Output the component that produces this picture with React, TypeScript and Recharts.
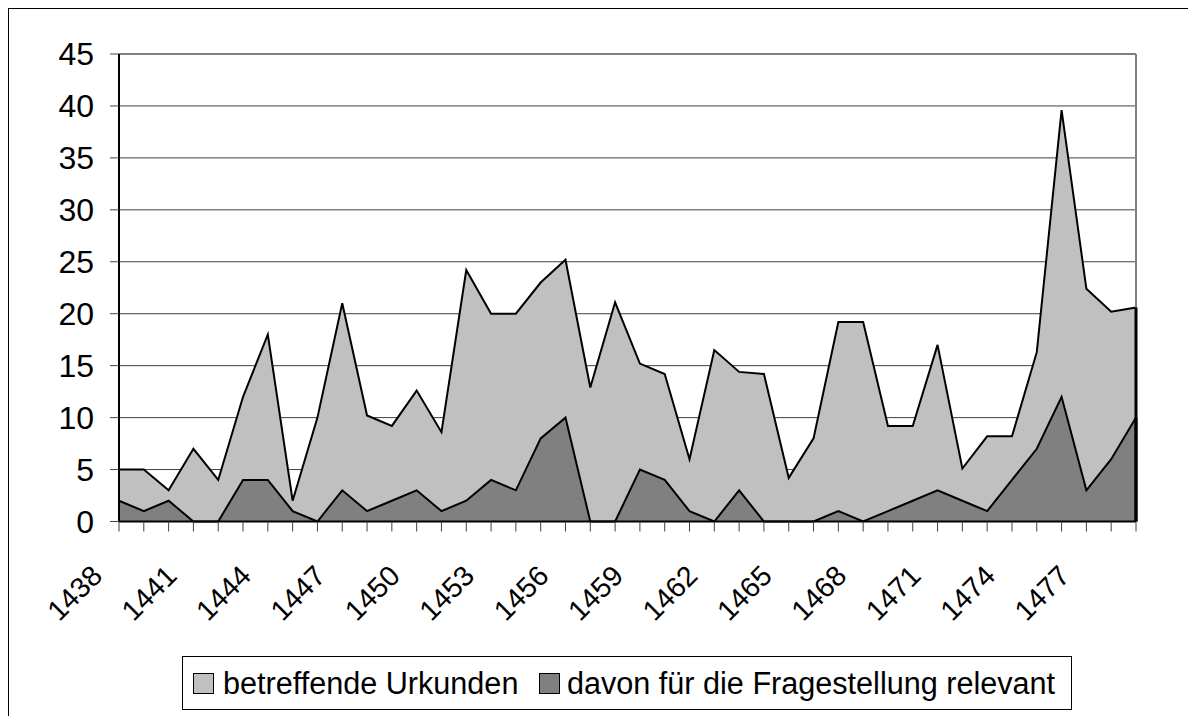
import React from 'react';
import { AreaChart, Area, XAxis, YAxis, CartesianGrid, ReferenceLine } from 'recharts';

const years: string[] = [
  '1438', '1439', '1440', '1441', '1442', '1443', '1444', '1445', '1446', '1447',
  '1448', '1449', '1450', '1451', '1452', '1453', '1454', '1455', '1456', '1457',
  '1458', '1459', '1460', '1461', '1462', '1463', '1464', '1465', '1466', '1467',
  '1468', '1469', '1470', '1471', '1472', '1473', '1474', '1475', '1476', '1477',
  '1478', '1479',
];

const betreffende: number[] = [
  5, 5, 3, 7, 4, 12, 18, 2, 10, 21,
  10.2, 9.2, 12.6, 8.6, 24.2, 20, 20, 23, 25.2, 12.9,
  21.1, 15.2, 14.2, 6, 16.5, 14.4, 14.2, 4.2, 8, 19.2,
  19.2, 9.2, 9.2, 17, 5.1, 8.2, 8.2, 16.3, 39.6, 22.4,
  20.2, 20.6,
];

const relevant: number[] = [
  2, 1, 2, 0, 0, 4, 4, 1, 0, 3,
  1, 2, 3, 1, 2, 4, 3, 8, 10, 0,
  0, 5, 4, 1, 0, 3, 0, 0, 0, 1,
  0, 1, 2, 3, 2, 1, 4, 7, 12, 3,
  6, 10,
];

const tickLabels: string[] = [
  '1438', '1441', '1444', '1447', '1450', '1453', '1456', '1459', '1462', '1465',
  '1468', '1471', '1474', '1477',
];

const yTicks: number[] = [0, 5, 10, 15, 20, 25, 30, 35, 40, 45];

const seriesNames = ['betreffende Urkunden', 'davon für die Fragestellung relevant'];

const data = years.map((y, i) => ({ year: y, a: betreffende[i], b: relevant[i] }));

const FONT = '"Liberation Sans", Arial, sans-serif';

const XTick = (props: any) => {
  const { x, y, payload } = props;
  const label = String(payload.value);
  if (!tickLabels.includes(label)) return null;
  const ax = x - 15;
  const ay = y + 44;
  return (
    <text
      x={ax}
      y={ay}
      textAnchor="end"
      fontFamily={FONT}
      fontSize={28.5}
      fill="#000"
      transform={`rotate(-45, ${ax}, ${ay})`}
    >
      {label}
    </text>
  );
};

const lastYear = years[years.length - 1];
const lastA = betreffende[betreffende.length - 1];
const lastB = relevant[relevant.length - 1];

export default function App() {
  return (
    <div
      style={{
        position: 'relative',
        width: 1198,
        height: 711,
        border: '1px solid #000',
        background: '#fff',
        fontFamily: FONT,
      }}
    >
      <AreaChart
        width={1198}
        height={711}
        data={data}
        margin={{ top: 45, right: 71, bottom: 0, left: 0 }}
      >
        <CartesianGrid vertical={false} stroke="#404040" strokeWidth={1} />
        <XAxis
          dataKey="year"
          scale="point"
          interval={0}
          padding={{ left: 0, right: 0 }}
          height={198.5}
          axisLine={{ stroke: '#000', strokeWidth: 2 }}
          tickLine={{ stroke: '#404040', strokeWidth: 1 }}
          tickSize={10}
          tick={<XTick />}
        />
        <YAxis
          width={110}
          domain={[0, 45]}
          ticks={yTicks}
          interval={0}
          axisLine={{ stroke: '#000', strokeWidth: 2 }}
          tickLine={{ stroke: '#404040', strokeWidth: 1 }}
          tickSize={9}
          tickMargin={16}
          tick={{ fontFamily: FONT, fontSize: 32, fill: '#000' }}
        />
        <ReferenceLine y={45} stroke="#808080" strokeWidth={2} ifOverflow="visible" />
        <ReferenceLine x={lastYear} stroke="#808080" strokeWidth={2} ifOverflow="visible" />
        <Area
          type="linear"
          dataKey="a"
          name={seriesNames[0]}
          stroke="#000"
          strokeWidth={2}
          fill="#C0C0C0"
          fillOpacity={1}
          isAnimationActive={false}
          dot={false}
          activeDot={false}
        />
        <Area
          type="linear"
          dataKey="b"
          name={seriesNames[1]}
          stroke="#000"
          strokeWidth={2}
          fill="#808080"
          fillOpacity={1}
          isAnimationActive={false}
          dot={false}
          activeDot={false}
        />
        <ReferenceLine
          segment={[{ x: lastYear, y: 0 }, { x: lastYear, y: lastA }]}
          stroke="#000"
          strokeWidth={3}
          ifOverflow="visible"
        />
        <ReferenceLine
          segment={[{ x: lastYear, y: 0 }, { x: lastYear, y: lastB }]}
          stroke="#000"
          strokeWidth={3}
          ifOverflow="visible"
        />
      </AreaChart>
      <div
        style={{
          position: 'absolute',
          left: 173,
          top: 647,
          width: 888,
          height: 52,
          border: '1px solid #000',
          boxSizing: 'content-box',
          fontFamily: FONT,
          fontSize: 30.6,
          color: '#000',
        }}
      >
        <div style={{ position: 'absolute', left: 10, top: 16, width: 19, height: 19, border: '1px solid #000', background: '#C0C0C0' }} />
        <div style={{ position: 'absolute', left: 40, top: 0, height: 52, lineHeight: '52px', whiteSpace: 'nowrap' }}>{seriesNames[0]}</div>
        <div style={{ position: 'absolute', left: 356, top: 16, width: 19, height: 19, border: '1px solid #000', background: '#808080' }} />
        <div style={{ position: 'absolute', left: 384, top: 0, height: 52, lineHeight: '52px', whiteSpace: 'nowrap' }}>{seriesNames[1]}</div>
      </div>
    </div>
  );
}
